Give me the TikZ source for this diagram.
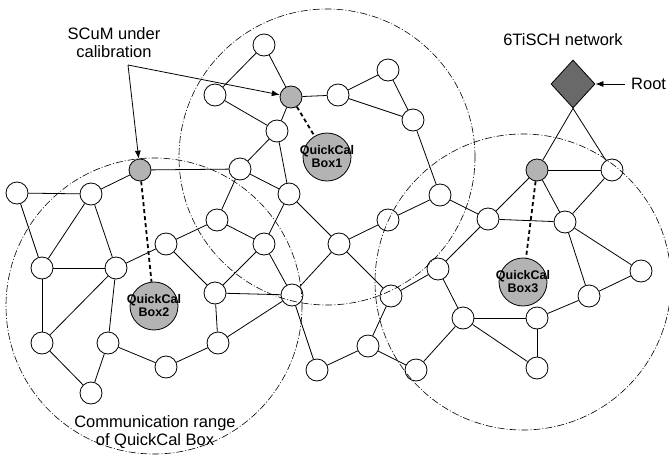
\documentclass[tikz,border=0pt]{standalone}
\usepackage{fontspec}
\setmainfont{Liberation Sans}
\usetikzlibrary{shapes.geometric,arrows.meta}
\definecolor{nodegray}{HTML}{B3B3B3}
\definecolor{rootgray}{HTML}{696969}
\tikzset{
  mote/.style={circle,draw=black,fill=white,line width=0.8pt,minimum size=22pt,inner sep=0pt},
  scum/.style={mote,fill=nodegray},
  qbox/.style={circle,draw=black,fill=nodegray,line width=0.8pt,minimum size=48pt,inner sep=0pt},
  qtext/.style={font=\bfseries\fontsize{12.5}{13}\selectfont,align=center,inner sep=0pt},
  rootnode/.style={diamond,draw=black,fill=rootgray,line width=0.8pt,minimum width=44pt,minimum height=48pt,inner sep=0pt},
  link/.style={line width=0.8pt},
  calib/.style={line width=1.8pt,dash pattern=on 4pt off 3pt},
  rangecirc/.style={line width=0.6pt,dash pattern=on 7pt off 2pt on 1pt off 2pt},
  lbl/.style={font=\fontsize{16.5}{18}\selectfont,align=center,inner sep=0pt},
  pointer/.style={line width=0.8pt,-{Latex[length=8pt,width=6pt]}}
}
\begin{document}
\begin{tikzpicture}[x=1pt,y=-1pt]
\useasboundingbox (0,0) rectangle (669,458);
% left cluster
\node[mote] (A1) at (17,193) {};
\node[mote] (A2) at (91,194) {};
\node[scum] (S2) at (140,170) {};
\node[mote] (A3) at (42,268) {};
\node[mote] (A4) at (116,268) {};
\node[mote] (A5) at (166,244) {};
\node[mote] (A6) at (217,220) {};
\node[mote] (A7) at (215,293) {};
\node[mote] (A8) at (42,343) {};
\node[mote] (A9) at (108,343) {};
\node[mote] (A10) at (166,367) {};
\node[mote] (A11) at (218,343) {};
\node[mote] (A12) at (91,393) {};
\node[qbox,label={[qtext]center:QuickCal\\Box2}] (Box2) at (154,306) {};
% middle
\node[mote] (B1) at (240,169) {};
\node[mote] (B2) at (277,131) {};
\node[mote] (B3) at (289,194) {};
\node[mote] (E0) at (215,95) {};
\node[mote] (E1) at (264,45) {};
\node[scum] (S1) at (291,97) {};
\node[mote] (E2) at (338,95) {};
\node[mote] (E3) at (388,70) {};
\node[mote] (E4) at (413,120) {};
\node[mote] (E5) at (440,195) {};
\node[mote] (D1) at (264,244) {};
\node[mote] (D2) at (339,244) {};
\node[mote] (D3) at (388,220) {};
\node[mote] (C1) at (292,295) {};
\node[mote] (D4) at (391,296) {};
\node[mote] (D5) at (438,269) {};
\node[mote] (D6) at (368,346) {};
\node[mote] (D7) at (317,370) {};
\node[mote] (D8) at (416,370) {};
\node[qbox,label={[qtext]center:QuickCal\\Box1}] (Box1) at (327,157) {};
% right
\node[rootnode] (Root) at (573,84) {};
\node[scum] (S3) at (537,170) {};
\node[mote] (F1) at (612,170) {};
\node[mote] (F2) at (488,219) {};
\node[mote] (F3) at (565,222) {};
\node[mote] (F4) at (641,271) {};
\node[mote] (F5) at (589,296) {};
\node[mote] (F6) at (463,318) {};
\node[mote] (F7) at (537,318) {};
\node[mote] (F8) at (537,368) {};
\node[qbox,label={[qtext]center:QuickCal\\Box3}] (Box3) at (523,282) {};
% links
\foreach \a/\b in {A1/A2,A1/A3,A2/A3,A2/A4,A2/S2,S2/B1,A3/A4,A3/A8,A4/A8,A4/A9,A4/A5,A5/A6,A5/A7,
  A8/A12,A9/A12,A9/A10,A10/A11,A11/A7,A11/C1,A7/C1,A7/D1,A6/D1,A6/B1,B1/B2,B1/B3,B2/B3,B2/S1,B2/E0,
  E0/E1,E1/S1,S1/E2,E2/E3,E2/E4,E3/E4,E4/E5,E5/D3,E5/F2,B3/D1,B3/D2,D1/C1,D2/C1,D2/D3,D2/D4,C1/D7,
  D4/D5,D4/D6,D6/D7,D6/D8,D8/F6,D5/F6,D5/F2,F2/S3,F2/F3,S3/F1,S3/F3,F1/F3,F3/F4,F3/F5,F4/F5,F5/F7,
  F6/F7,F6/F8,F7/F8}
  \draw[link] (\a) -- (\b);
\draw[link] (Root.south) -- (S3);
\draw[link] (Root.south) -- (F1);
% calibration links
\draw[calib] (S2) -- (Box2);
\draw[calib] (S1) -- (Box1);
\draw[calib] (S3) -- (Box3);
% communication ranges
\draw[rangecirc] (Box1.center) circle[radius=148pt];
\draw[rangecirc] (Box2.center) circle[radius=148pt];
\draw[rangecirc] (Box3.center) circle[radius=148pt];
% labels
\node[lbl] (scumlbl) at (114,43) {SCuM under\\calibration};
\coordinate (fork) at (128,65);
\draw[pointer] (fork) -- (S1);
\draw[pointer] (fork) -- (S2);
\node[lbl] (netlbl) at (563,40) {6TiSCH network};
\node[lbl,anchor=west] (rootlbl) at (631,84) {Root};
\coordinate (rootarr) at (625,84);
\draw[pointer] (rootarr) -- (Root.east);
\node[lbl] (rangelbl) at (155,432) {Communication range\\of QuickCal Box};
\end{tikzpicture}
\end{document}
